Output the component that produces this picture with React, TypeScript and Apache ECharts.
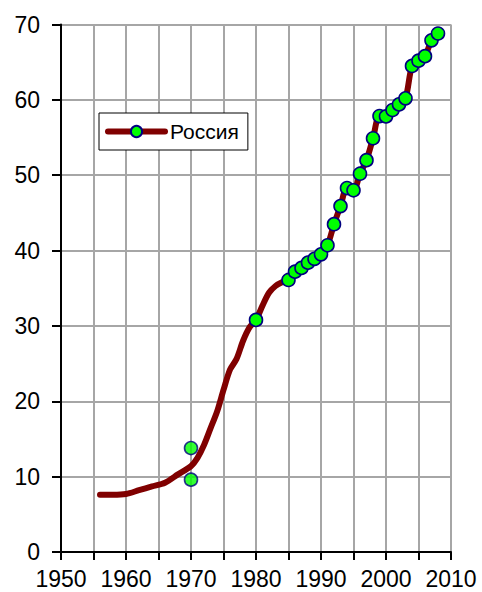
import React, { useEffect, useRef } from "react";
import * as echarts from "echarts";

// Smooth line (no markers)
const lineYears = [1956, 1958, 1960, 1962, 1964, 1966, 1968, 1970, 1971, 1972, 1973, 1974, 1975, 1976, 1977, 1978, 1979, 1981, 1982, 1983, 1984];
const lineValues = [7.6, 7.6, 7.7, 8.2, 8.7, 9.2, 10.3, 11.4, 12.5, 14.2, 16.4, 18.6, 21.5, 24.2, 25.6, 28.0, 29.8, 32.7, 34.4, 35.3, 35.8];

// Points with markers on the line
const markerYears = [1980, 1985, 1986, 1987, 1988, 1989, 1990, 1991, 1992, 1993, 1994, 1995, 1996, 1997, 1998, 1999, 2000, 2001, 2002, 2003, 2004, 2005, 2006, 2007, 2008];
const markerValues = [30.8, 36.1, 37.2, 37.7, 38.4, 38.9, 39.5, 40.7, 43.5, 45.9, 48.3, 48.0, 50.2, 52.0, 54.9, 57.85, 57.8, 58.65, 59.4, 60.2, 64.5, 65.2, 65.8, 67.9, 68.8];

// Separate estimates for 1970
const extraYears = [1970, 1970];
const extraValues = [13.8, 9.6];

const seriesName = "Россия";

const LINE_COLOR = "#800000";
const MARK_COLOR = "#00ff00";
const MARK_BORDER = "#000080";
const FONT = "'Liberation Sans', Arial, sans-serif";

export default function App() {
  const ref = useRef<HTMLDivElement>(null);

  useEffect(() => {
    if (!ref.current) return;
    const chart = echarts.init(ref.current, undefined, { renderer: "svg" });

    const pts: any[] = [];
    lineYears.forEach((y, i) => pts.push({ value: [y, lineValues[i]], symbol: "none" }));
    markerYears.forEach((y, i) => pts.push({ value: [y, markerValues[i]] }));
    pts.sort((a, b) => a.value[0] - b.value[0]);

    const markStyle = { color: MARK_COLOR, borderColor: MARK_BORDER, borderWidth: 1.6 };

    chart.setOption({
      animation: false,
      grid: { left: 61, right: 31, top: 24.5, bottom: 40, containLabel: false },
      legend: {
        data: [seriesName],
        left: 99,
        top: 113,
        orient: "horizontal",
        backgroundColor: "#fff",
        borderColor: "#000",
        borderWidth: 1,
        borderRadius: 0,
        padding: [8, 9, 8, 6],
        itemWidth: 57,
        itemHeight: 14,
        lineStyle: { width: 6, color: LINE_COLOR, cap: "round" },
        textStyle: { fontSize: 21, fontFamily: FONT, color: "#000" },
      },
      xAxis: {
        type: "value",
        min: 1950,
        max: 2010,
        interval: 5,
        axisLine: { show: true, onZero: false, lineStyle: { color: "#000", width: 2 } },
        axisTick: { show: true, length: 8, lineStyle: { color: "#000", width: 2 } },
        axisLabel: {
          fontSize: 23,
          fontFamily: FONT,
          color: "#000",
          margin: 15,
          formatter: (v: number) => (v % 10 === 0 ? String(v) : ""),
        },
        splitLine: { show: true, lineStyle: { color: "#a6a6a6", width: 2 } },
      },
      yAxis: {
        type: "value",
        min: 0,
        max: 70,
        interval: 10,
        axisLine: { show: true, onZero: false, lineStyle: { color: "#000", width: 2 } },
        axisTick: { show: true, length: 9, lineStyle: { color: "#000", width: 2 } },
        axisLabel: { fontSize: 23, fontFamily: FONT, color: "#000", margin: 21 },
        splitLine: { show: true, lineStyle: { color: "#a6a6a6", width: 2 } },
      },
      series: [
        {
          name: seriesName,
          type: "line",
          data: pts,
          smooth: 0.3,
          symbol: "circle",
          symbolSize: 13,
          showAllSymbol: true,
          lineStyle: { color: LINE_COLOR, width: 6, cap: "round", join: "round" },
          itemStyle: markStyle,
          z: 3,
        },
        {
          name: seriesName + " ",
          type: "scatter",
          data: extraYears.map((y, i) => [y, extraValues[i]]),
          symbol: "circle",
          symbolSize: 13,
          itemStyle: markStyle,
          z: 4,
        },
      ],
    });

    return () => chart.dispose();
  }, []);

  return (
    <div
      ref={ref}
      style={{ position: "fixed", left: 0, top: 0, width: 482, height: 592, background: "#fff" }}
    />
  );
}
